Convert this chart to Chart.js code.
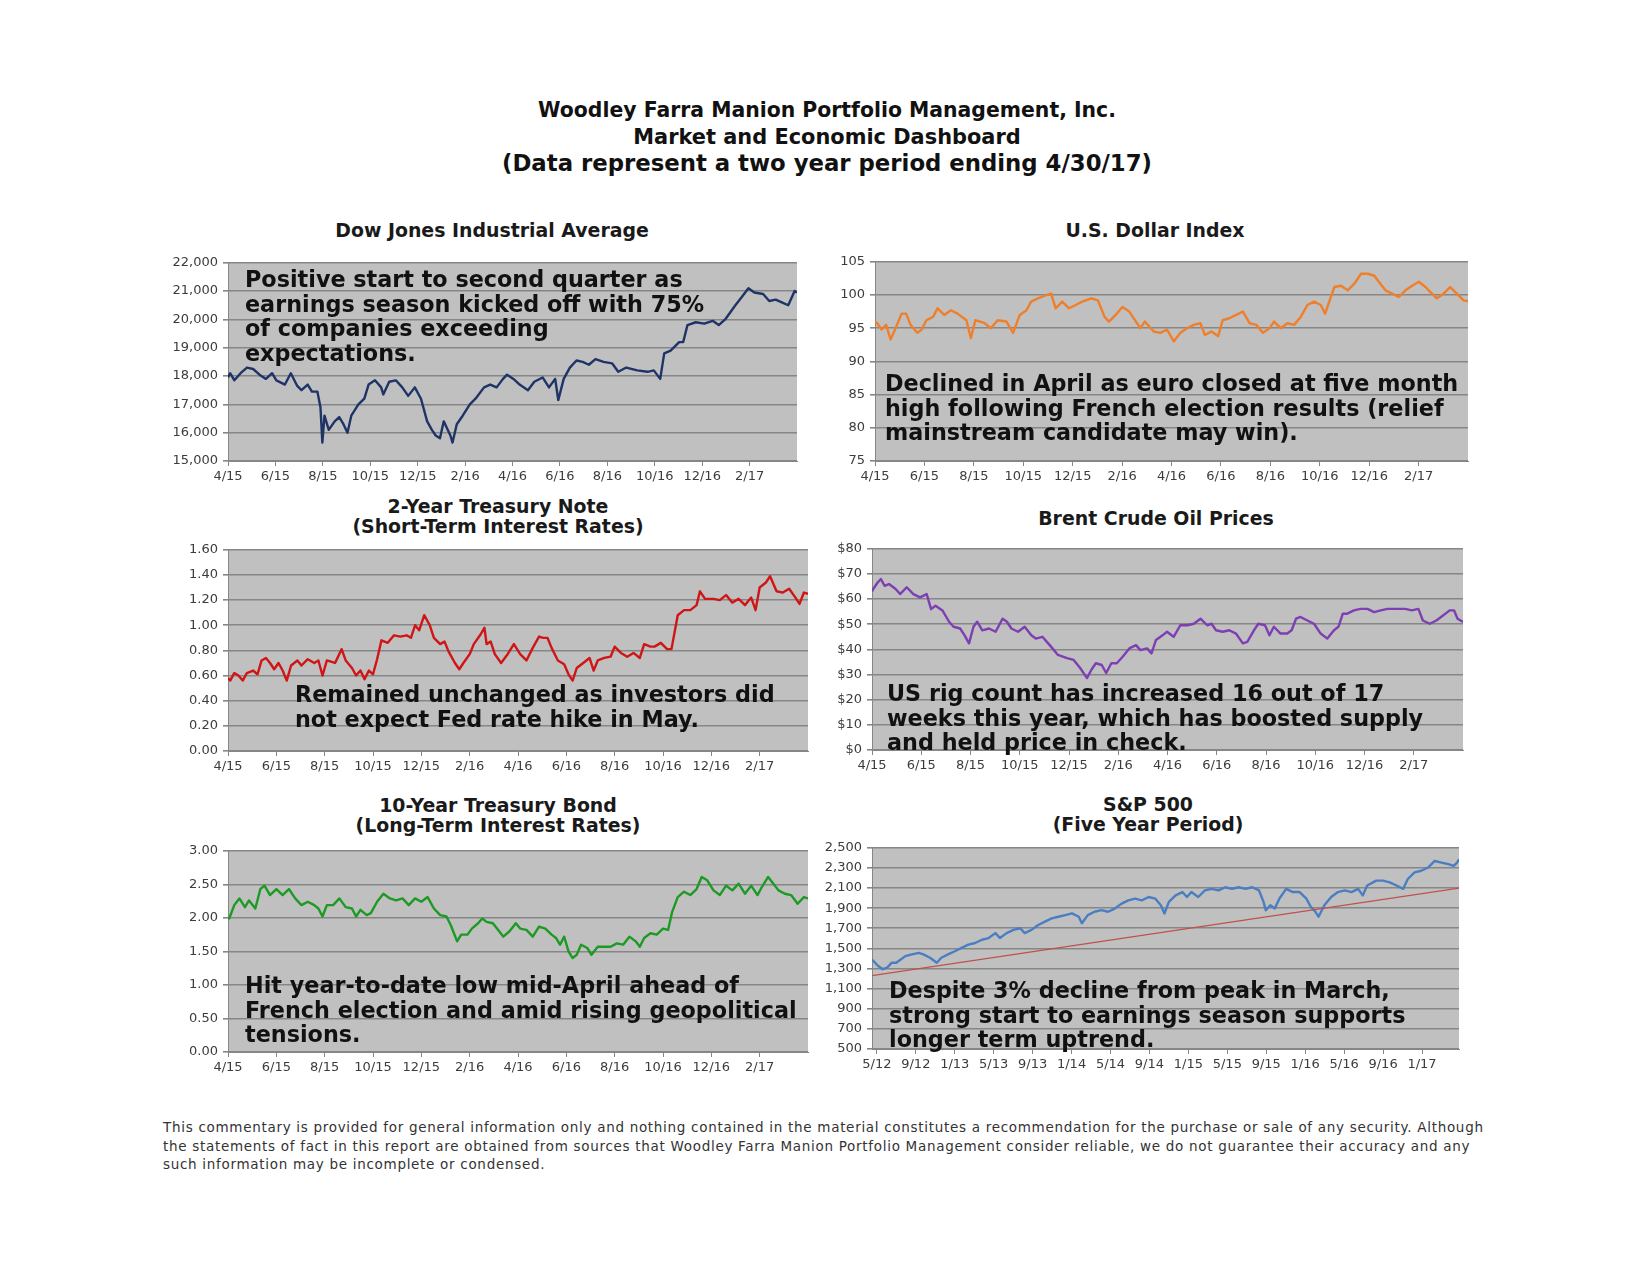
<!DOCTYPE html>
<html>
<head>
<meta charset="utf-8">
<script src="https://cdn.jsdelivr.net/npm/chart.js@4"></script>
<style>
  html, body { margin:0; padding:0; background:#fff; }
  body { width:1650px; height:1275px; position:relative; overflow:hidden; font-family:"DejaVu Sans", Verdana, sans-serif; }
  .ttl { position:absolute; transform:translateX(-50%); text-align:center; white-space:nowrap; font-weight:bold; color:#111; }
  .ctitle { position:absolute; transform:translateX(-50%); text-align:center; white-space:nowrap; font-weight:bold; color:#1a1a1a; font-size:18.9px; line-height:20px; }
  .note { position:absolute; font-weight:bold; font-size:22.3px; line-height:24.5px; color:#111; white-space:nowrap; z-index:5; }
  .foot { position:absolute; left:163px; top:1118px; font-size:13.5px; line-height:18.5px; letter-spacing:0.7px; color:#333; white-space:nowrap; }
  canvas { position:absolute; }
</style>
</head>
<body>

<div class="ttl" style="left:827px; top:98px; font-size:20.4px; line-height:24px;">Woodley Farra Manion Portfolio Management, Inc.</div>
<div class="ttl" style="left:827px; top:125px; font-size:20.9px; line-height:24px;">Market and Economic Dashboard</div>
<div class="ttl" style="left:827px; top:151px; font-size:22.8px; line-height:24px;">(Data represent a two year period ending 4/30/17)</div>

<div class="ctitle" style="left:492px; top:220px;">Dow Jones Industrial Average</div>
<div class="ctitle" style="left:1155px; top:220px;">U.S. Dollar Index</div>
<div class="ctitle" style="left:498px; top:496px;">2-Year Treasury Note<br>(Short-Term Interest Rates)</div>
<div class="ctitle" style="left:1156px; top:508px;">Brent Crude Oil Prices</div>
<div class="ctitle" style="left:498px; top:795px;">10-Year Treasury Bond<br>(Long-Term Interest Rates)</div>
<div class="ctitle" style="left:1148px; top:794px;">S&amp;P 500<br>(Five Year Period)</div>

<canvas id="cDow"></canvas>
<canvas id="cUsd"></canvas>
<canvas id="cT2"></canvas>
<canvas id="cBrent"></canvas>
<canvas id="cT10"></canvas>
<canvas id="cSpx"></canvas>

<div class="note" style="left:245px; top:267px;">Positive start to second quarter as<br>earnings season kicked off with 75%<br>of companies exceeding<br>expectations.</div>
<div class="note" style="left:885px; top:371px;">Declined in April as euro closed at five month<br>high following French election results (relief<br>mainstream candidate may win).</div>
<div class="note" style="left:295px; top:682px;">Remained unchanged as investors did<br>not expect Fed rate hike in May.</div>
<div class="note" style="left:887px; top:681px;">US rig count has increased 16 out of 17<br>weeks this year, which has boosted supply<br>and held price in check.</div>
<div class="note" style="left:245px; top:973px;">Hit year-to-date low mid-April ahead of<br>French election and amid rising geopolitical<br>tensions.</div>
<div class="note" style="left:889px; top:978px;">Despite 3% decline from peak in March,<br>strong start to earnings season supports<br>longer term uptrend.</div>

<div class="foot">This commentary is provided for general information only and nothing contained in the material constitutes a recommendation for the purchase or sale of any security. Although<br>the statements of fact in this report are obtained from sources that Woodley Farra Manion Portfolio Management consider reliable, we do not guarantee their accuracy and any<br>such information may be incomplete or condensed.</div>

<script>
// ---------- tick labels ----------
const monthTickValues = [0,2,4,6,8,10,12,14,16,18,20,22];
const monthTickLabels = ['4/15','6/15','8/15','10/15','12/15','2/16','4/16','6/16','8/16','10/16','12/16','2/17'];
const spxTickValues = [0,4,8,12,16,20,24,28,32,36,40,44,48,52,56];
const spxTickLabels = ['5/12','9/12','1/13','5/13','9/13','1/14','5/14','9/14','1/15','5/15','9/15','1/16','5/16','9/16','1/17'];

// ---------- Dow Jones Industrial Average (months since 4/15) ----------
const dowMonths = [0,0.09,0.27,0.53,0.8,1.06,1.33,1.6,1.86,2.04,2.4,2.65,2.92,3.1,3.36,3.54,3.77,3.9,3.98,4.07,4.25,4.5,4.69,4.87,5.04,5.2,5.5,5.75,5.93,6.2,6.46,6.55,6.8,7.08,7.35,7.6,7.88,8.14,8.4,8.6,8.76,8.94,9.1,9.38,9.47,9.65,9.9,10.2,10.44,10.8,11.06,11.33,11.6,11.77,12.04,12.3,12.65,12.92,13.27,13.54,13.8,13.93,14.16,14.42,14.7,14.96,15.22,15.5,15.84,16.2,16.46,16.8,17.26,17.7,17.96,18.23,18.4,18.67,19.03,19.2,19.38,19.73,20.09,20.44,20.7,20.97,21.4,21.68,21.95,22.2,22.57,22.83,23.1,23.36,23.63,23.9,24];
const dowValues = [17950,18100,17850,18100,18300,18250,18050,17900,18100,17850,17700,18100,17650,17500,17700,17450,17450,16900,15650,16600,16100,16400,16550,16300,16000,16600,17000,17200,17700,17850,17600,17350,17800,17850,17600,17300,17600,17200,16400,16100,15900,15800,16400,15900,15650,16300,16600,17000,17200,17600,17700,17600,17900,18050,17900,17700,17500,17800,17950,17600,17900,17150,17900,18300,18550,18500,18400,18600,18500,18450,18150,18300,18200,18150,18200,17900,18800,18900,19200,19200,19800,19900,19850,19950,19800,20000,20500,20800,21100,20950,20900,20650,20700,20600,20500,21000,20950];

// ---------- U.S. Dollar Index ----------
const usdMonths = [0,0.09,0.27,0.45,0.63,0.81,1.08,1.26,1.44,1.71,1.89,2.08,2.35,2.53,2.8,3.07,3.34,3.7,3.88,4.06,4.42,4.69,4.96,5.32,5.59,5.86,6.13,6.32,6.59,6.95,7.13,7.31,7.58,7.85,8.12,8.39,8.75,9.02,9.29,9.47,9.74,10.01,10.29,10.56,10.74,10.92,11.28,11.55,11.82,12.09,12.36,12.63,12.9,13.17,13.35,13.62,13.89,14.07,14.34,14.62,14.89,15.16,15.43,15.7,15.97,16.15,16.42,16.69,16.96,17.23,17.5,17.77,18.04,18.22,18.4,18.59,18.86,19.13,19.4,19.67,19.94,20.21,20.39,20.66,20.93,21.2,21.47,21.74,22.01,22.28,22.46,22.74,23.01,23.28,23.55,23.82,24];
const usdValues = [96.0,95.75,94.8,95.5,93.3,94.8,97.2,97.2,95.5,94.3,94.8,96.2,96.7,98.0,97.0,97.7,97.2,96.2,93.5,96.2,95.8,95.0,96.2,96.0,94.3,97.0,97.7,99.0,99.5,100.0,100.2,98.0,99.0,98.0,98.5,99.0,99.5,99.2,96.7,96.0,97.0,98.2,97.5,96.0,95.0,96.0,94.5,94.3,94.8,93.0,94.3,95.0,95.5,95.75,94.0,94.5,93.8,96.2,96.5,97.0,97.5,95.75,95.5,94.3,95.0,96.0,95.0,95.75,95.5,96.7,98.5,99.0,98.5,97.2,99.2,101.2,101.4,100.7,101.7,103.2,103.2,102.9,102.0,100.7,100.2,99.7,100.7,101.4,102.0,101.2,100.5,99.5,100.2,101.2,100.2,99.2,99.1];

// ---------- 2-Year Treasury Note ----------
const t2Months = [0,0.09,0.26,0.43,0.61,0.78,1.04,1.22,1.39,1.57,1.74,1.91,2.09,2.26,2.43,2.61,2.87,3.04,3.3,3.57,3.74,3.91,4.09,4.43,4.7,4.87,5.13,5.3,5.48,5.65,5.83,6,6.17,6.35,6.61,6.87,7.13,7.39,7.57,7.74,7.91,8.12,8.35,8.52,8.78,8.96,9.13,9.39,9.57,9.74,10,10.17,10.43,10.61,10.7,10.87,11.04,11.3,11.57,11.83,12.09,12.35,12.61,12.87,13.04,13.22,13.39,13.65,13.91,14.09,14.26,14.43,14.7,14.96,15.13,15.3,15.57,15.83,16,16.26,16.52,16.78,17.04,17.22,17.48,17.65,17.91,18.17,18.35,18.61,18.87,19.13,19.39,19.53,19.74,20.09,20.35,20.61,20.87,21.13,21.39,21.65,21.83,22,22.26,22.43,22.7,22.96,23.22,23.48,23.65,23.83,24];
const t2Values = [0.58,0.56,0.62,0.60,0.56,0.62,0.64,0.61,0.72,0.74,0.70,0.65,0.70,0.64,0.56,0.68,0.72,0.68,0.73,0.70,0.72,0.60,0.72,0.70,0.81,0.72,0.66,0.60,0.64,0.57,0.64,0.61,0.73,0.88,0.86,0.92,0.91,0.92,0.90,1.00,0.96,1.08,1.00,0.90,0.85,0.87,0.79,0.70,0.65,0.70,0.77,0.85,0.92,0.98,0.85,0.87,0.77,0.70,0.77,0.85,0.77,0.72,0.82,0.91,0.90,0.90,0.82,0.72,0.69,0.61,0.56,0.66,0.70,0.74,0.64,0.72,0.74,0.75,0.83,0.78,0.75,0.78,0.74,0.85,0.83,0.83,0.86,0.81,0.81,1.08,1.12,1.12,1.16,1.27,1.21,1.21,1.20,1.24,1.18,1.21,1.16,1.22,1.12,1.30,1.34,1.39,1.27,1.26,1.29,1.22,1.17,1.26,1.25];

// ---------- Brent Crude Oil ----------
const brentMonths = [0,0.05,0.23,0.36,0.51,0.69,0.96,1.14,1.41,1.68,1.95,2.22,2.4,2.58,2.86,3.13,3.31,3.58,3.76,3.94,4.12,4.27,4.48,4.75,5.02,5.3,5.48,5.66,5.93,6.2,6.47,6.65,6.92,7.1,7.28,7.55,7.92,8.19,8.46,8.73,8.91,9.09,9.33,9.51,9.72,9.94,10.18,10.45,10.72,10.9,11.17,11.35,11.53,11.8,11.98,12.25,12.52,12.8,13.07,13.34,13.61,13.79,13.97,14.24,14.51,14.78,15.06,15.24,15.51,15.69,15.96,16.14,16.32,16.59,16.86,17.04,17.22,17.4,17.68,17.95,18.22,18.49,18.76,18.94,19.12,19.3,19.57,19.84,20.12,20.39,20.66,20.93,21.29,21.65,21.92,22.19,22.37,22.65,22.92,23.19,23.46,23.64,23.78,24];
const brentValues = [63,64,66.6,68,65.3,66,64,62,64.7,62,60.7,62,56,57.4,55.5,51,49,48.3,45.6,42.4,49,51,47.6,48.3,47,52.2,51,48.3,47,49,45.6,44.3,45,43,41,37.8,36.5,35.8,32.5,28.6,31.9,34.5,33.8,30.6,34.5,34.5,37.1,40.4,41.7,39.7,40.4,38.4,43.7,45.6,47,45,49.6,49.6,50.2,52.2,49.6,50.2,47.6,47,47.6,46.3,42.4,43,47.6,50.2,49.6,45.6,49,46.3,46.3,47.6,52.2,52.9,51.5,50.2,46.3,44.3,47.6,49,54.2,54.2,55.5,56.1,56.1,54.8,55.5,56.1,56.1,56.1,55.5,56.1,51.5,50.2,51.5,53.5,55.5,55.5,52.2,50.9];

// ---------- 10-Year Treasury Bond ----------
const t10Months = [0,0.05,0.26,0.47,0.7,0.87,1.13,1.34,1.51,1.74,2,2.26,2.52,2.78,3.04,3.3,3.57,3.74,3.91,4.09,4.35,4.61,4.87,5.13,5.3,5.48,5.74,5.91,6.17,6.43,6.7,6.96,7.22,7.48,7.74,8,8.26,8.52,8.78,9.04,9.22,9.48,9.65,9.91,10.09,10.35,10.52,10.7,10.96,11.22,11.39,11.65,11.91,12.09,12.35,12.61,12.87,13.13,13.39,13.57,13.74,13.91,14.09,14.26,14.43,14.61,14.87,15.04,15.3,15.57,15.83,16.09,16.35,16.61,16.87,17.04,17.22,17.48,17.74,18,18.21,18.38,18.61,18.87,19.13,19.39,19.6,19.83,20.09,20.35,20.61,20.87,21.13,21.39,21.65,21.91,22.09,22.35,22.52,22.78,23.04,23.3,23.57,23.83,24];
const t10Values = [2.00,1.99,2.19,2.29,2.16,2.26,2.14,2.43,2.48,2.34,2.43,2.34,2.43,2.29,2.19,2.24,2.19,2.14,2.02,2.19,2.19,2.29,2.16,2.14,2.02,2.12,2.04,2.07,2.24,2.36,2.29,2.26,2.29,2.19,2.29,2.24,2.31,2.14,2.04,2.02,1.89,1.65,1.75,1.75,1.84,1.92,1.99,1.94,1.92,1.80,1.72,1.80,1.92,1.84,1.82,1.72,1.87,1.84,1.75,1.70,1.60,1.72,1.50,1.40,1.45,1.60,1.55,1.45,1.57,1.57,1.57,1.62,1.60,1.72,1.65,1.57,1.70,1.77,1.75,1.84,1.82,2.09,2.31,2.39,2.34,2.43,2.61,2.56,2.41,2.34,2.48,2.41,2.51,2.36,2.48,2.34,2.46,2.61,2.53,2.41,2.36,2.34,2.21,2.31,2.29];

// ---------- S&P 500 (months since 5/12) ----------
const spxMonths = [-0.5,0.14,0.6,1.06,1.53,1.99,2.45,2.92,3.61,4.31,4.77,5.46,6.16,6.62,7.31,8.01,8.7,9.4,10.09,10.79,11.48,12.18,12.64,13.33,14.03,14.72,15.19,15.88,16.57,17.27,17.96,18.66,19.35,20.05,20.74,21.06,21.67,22.36,23.06,23.75,24.44,25.14,25.83,26.53,27.22,27.92,28.61,29.17,29.54,30,30.69,31.39,31.85,32.31,33.01,33.7,34.4,35.09,35.79,36.48,37.18,37.87,38.56,39.26,39.72,39.95,40.42,40.88,41.34,42.04,42.73,43.43,44.12,44.58,45.05,45.37,45.97,46.67,47.36,48.06,48.75,49.44,49.91,50.37,51.3,51.99,52.69,53.38,54.07,54.54,55.23,55.93,56.62,57.31,58.01,58.7,59.26,59.6,59.8];
const spxValues = [1390,1325,1293,1309,1358,1358,1390,1423,1440,1456,1440,1407,1358,1407,1440,1472,1505,1538,1554,1586,1603,1652,1603,1652,1684,1700,1652,1684,1733,1766,1799,1815,1831,1848,1815,1750,1831,1864,1880,1864,1896,1945,1978,1994,1978,2011,1994,1929,1847,1962,2027,2060,2011,2060,2011,2076,2092,2076,2108,2092,2108,2092,2108,2076,1962,1880,1929,1896,1994,2092,2060,2060,1994,1913,1864,1815,1929,2011,2060,2076,2060,2092,2027,2125,2174,2174,2157,2125,2092,2190,2255,2272,2304,2369,2353,2337,2320,2353,2386];
const spxTrendMonths = [-0.5, 59.8];
const spxTrendValues = [1230, 2100];

// ---------- helpers ----------
Chart.defaults.font.family = '"DejaVu Sans", Verdana, sans-serif';
const pts = (xs, ys) => xs.map((x, i) => ({ x: x, y: ys[i] }));
const comma = v => Number(v).toLocaleString('en-US');

const plotBg = {
  id: 'plotBg',
  beforeDraw(chart) {
    const a = chart.chartArea, ctx = chart.ctx;
    ctx.save();
    ctx.fillStyle = '#c0c0c0';
    ctx.fillRect(a.left, a.top, a.right - a.left, a.bottom - a.top);
    ctx.restore();
  }
};

const Y_W = 70, PAD_T = 10, PAD_R = 12, X_H = 32;
const GRID = '#868686', TICK = '#3c3c3c';

function makeChart(id, box, datasets, y, x) {
  const c = document.getElementById(id);
  const w = box.r - box.l + Y_W + PAD_R, h = box.b - box.t + PAD_T + X_H;
  c.width = w; c.height = h;
  c.style.left = (box.l - Y_W) + 'px';
  c.style.top = (box.t - PAD_T) + 'px';
  c.style.width = w + 'px'; c.style.height = h + 'px';
  return new Chart(c, {
    type: 'line',
    data: { datasets: datasets },
    options: {
      responsive: false,
      animation: false,
      layout: { padding: { left: 0, top: PAD_T, right: PAD_R, bottom: 0 } },
      plugins: { legend: { display: false }, tooltip: { enabled: false } },
      elements: { point: { radius: 0 }, line: { tension: 0, borderJoinStyle: 'round' } },
      scales: {
        x: {
          type: 'linear', min: x.min, max: x.max,
          afterFit: s => { s.height = X_H; },
          afterBuildTicks: a => { a.ticks = x.values.map(v => ({ value: v })); },
          grid: { drawOnChartArea: false, drawTicks: true, tickLength: 5, color: GRID },
          border: { color: GRID },
          ticks: { autoSkip: false, maxRotation: 0, minRotation: 0, padding: 3, color: TICK,
                   font: { size: 13 }, callback: (v, i) => (x.labels[i] !== undefined ? x.labels[i] : '') }
        },
        y: {
          min: y.min, max: y.max,
          afterFit: s => { s.width = Y_W; },
          grid: { color: GRID, lineWidth: 1.6, tickLength: 5 },
          border: { color: GRID },
          ticks: { stepSize: y.step, padding: 5, color: TICK, font: { size: 13 }, callback: y.fmt }
        }
      }
    },
    plugins: [plotBg]
  });
}

const monthAxis = { min: 0, max: 24, values: monthTickValues, labels: monthTickLabels };
const spxAxis = { min: -0.5, max: 59.8, values: spxTickValues, labels: spxTickLabels };
const line = (data, color, width) => ({ data: data, borderColor: color, borderWidth: width || 2.4, fill: false });

makeChart('cDow', { l: 228, t: 260, r: 797, b: 461 },
  [line(pts(dowMonths, dowValues), '#1f3466')],
  { min: 15000, max: 22000, step: 1000, fmt: v => comma(v) }, monthAxis);

makeChart('cUsd', { l: 875, t: 259, r: 1468, b: 461 },
  [line(pts(usdMonths, usdValues), '#ef7f2a')],
  { min: 75, max: 105, step: 5, fmt: v => String(Math.round(v)) }, monthAxis);

makeChart('cT2', { l: 228, t: 547, r: 808, b: 751 },
  [line(pts(t2Months, t2Values), '#cf1515')],
  { min: 0, max: 1.6, step: 0.2, fmt: v => Number(v).toFixed(2) }, monthAxis);

makeChart('cBrent', { l: 872, t: 546, r: 1463, b: 750 },
  [line(pts(brentMonths, brentValues), '#7d3fb2')],
  { min: 0, max: 80, step: 10, fmt: v => '$' + Math.round(v) }, monthAxis);

makeChart('cT10', { l: 228, t: 848, r: 808, b: 1052 },
  [line(pts(t10Months, t10Values), '#1d9a24')],
  { min: 0, max: 3, step: 0.5, fmt: v => Number(v).toFixed(2) }, monthAxis);

makeChart('cSpx', { l: 872, t: 845, r: 1459, b: 1049 },
  [line(pts(spxTrendMonths, spxTrendValues), '#c0504d', 1.2),
   line(pts(spxMonths, spxValues), '#4a7ec2')],
  { min: 500, max: 2500, step: 200, fmt: v => comma(v) }, spxAxis);
</script>
</body>
</html>
